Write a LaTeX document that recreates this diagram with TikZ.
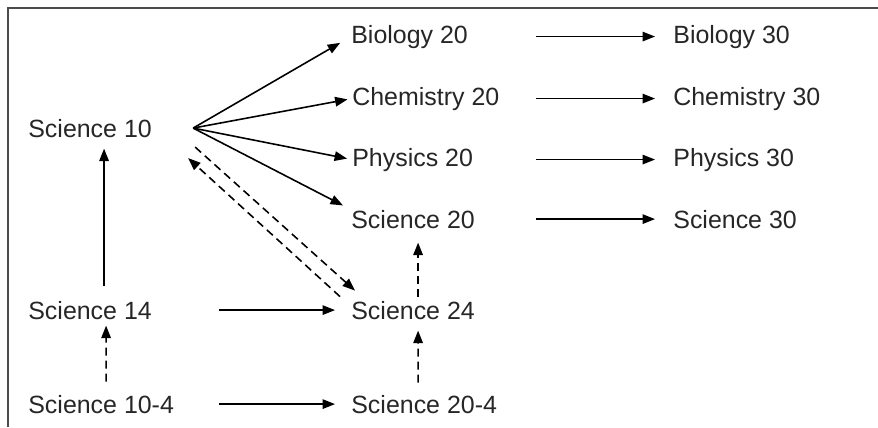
\documentclass[tikz,border=0pt]{standalone}
\usepackage{fontspec}
\setmainfont{Liberation Sans}
\usetikzlibrary{arrows.meta}

\begin{document}
\begin{tikzpicture}[x=0.02cm,y=-0.02cm,
  t/.style={anchor=base west,inner sep=0pt,font=\fontsize{14.2}{17}\selectfont,
    text=black!85},
  f/.style={-{Triangle[length=2.5mm,width=1.9mm]},line width=.9pt},
  d/.style={f,dash pattern=on 1.6mm off 1mm}]
\useasboundingbox (0,0) rectangle (878,427);
\draw[line width=1.2pt,black!70] (8,427)--(8,8)--(878,8);
\node[t] (sci10) at (28,137) {Science 10};
\node[t] (sci14) at (28,319) {Science 14};
\node[t] (sci104) at (28,413) {Science 10-4};
\node[t] (bio20) at (351,43) {Biology 20};
\node[t] (chem20) at (352,105) {Chemistry 20};
\node[t] (phys20) at (352,166) {Physics 20};
\node[t] (sci20) at (351,228) {Science 20};
\node[t] (sci24) at (351,319) {Science 24};
\node[t] (sci204) at (351,413) {Science 20-4};
\node[t] (bio30) at (673,43) {Biology 30};
\node[t] (chem30) at (673,105) {Chemistry 30};
\node[t] (phys30) at (673,166) {Physics 30};
\node[t] (sci30) at (673,228) {Science 30};
\coordinate (fan) at ([shift={(41,0)}]sci10.east);
\coordinate (gap) at (536,0);
% from Science 10
\draw[f,shorten >=2.5mm] (fan)--(bio20.west);
\draw[f,shorten >=.9mm] (fan)--(chem20.west);
\draw[f,shorten >=1mm] (fan)--(phys20.west);
\draw[f,shorten >=1.8mm] (fan)--(sci20.north west);
\draw[d] ([shift={(43,19)}]sci10.east)--([shift={(4,-10)}]sci24.north west);
\draw[d] ([shift={(-11,-4)}]sci24.north west)--([shift={(36,30)}]sci10.east);
% upward
\draw[f] ([shift={(14,-15)}]sci14.north)--([shift={(14,11)}]sci10.south);
\draw[d] ([shift={(5,-13)}]sci104.north)--([shift={(16,6)}]sci14.south);
\draw[d] ([shift={(5,-4)}]sci24.north)--([shift={(5,14)}]sci20.south);
\draw[d] ([shift={(-6,-12)}]sci204.north)--([shift={(5,11)}]sci24.south);
% across
\draw[f,shorten <=13.4mm,shorten >=3.2mm] (sci14.east)--(sci24.west);
\draw[f,shorten <=9mm,shorten >=3.2mm] (sci104.east)--(sci204.west);
\draw[f,shorten >=3.6mm] (bio20 -| gap)--(bio30);
\draw[f,shorten >=3.6mm] (chem20 -| gap)--(chem30);
\draw[f,shorten >=3.6mm] (phys20 -| gap)--(phys30);
\draw[f,shorten >=3.6mm] (sci20 -| gap)--(sci30);
\end{tikzpicture}
\end{document}
